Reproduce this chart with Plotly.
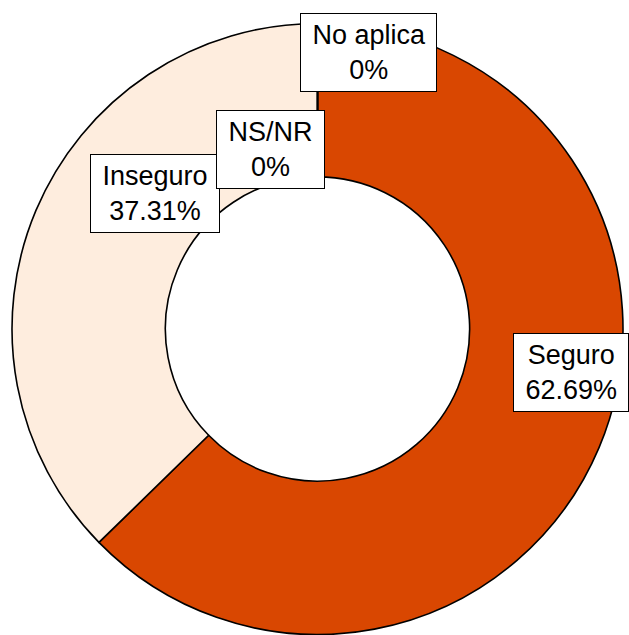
import plotly.graph_objects as go

# categories and shares (percent)
categories = ["Seguro", "Inseguro", "NS/NR", "No aplica"]
values = [62.69, 37.31, 0, 0]
colors = ["#D94701", "#FEEDDE", "#FDBE85", "#FD8D3C"]

# label boxes (paper coords), in the order of categories
label_x = [1.0098, 0.234, 0.4223, 0.5827]
label_y = [0.4297, 0.7222, 0.7925, 0.9526]
label_anchor = ["right", "center", "center", "center"]


def fmt(v):
    return f"{v:g}%" if v == 0 else f"{v:.2f}%"


fig = go.Figure(go.Pie(
    labels=categories,
    values=values,
    hole=0.498,
    sort=False,
    direction="clockwise",
    rotation=0,
    marker=dict(colors=colors, line=dict(color="black", width=1.6)),
    textinfo="none",
    hoverinfo="label+percent",
    showlegend=False,
))

sp = "\u2009"
for name, v, x, y, xa in zip(categories, values, label_x, label_y, label_anchor):
    fig.add_annotation(
        text=f"{sp}{name}{sp}<br>{sp}{fmt(v)}{sp}",
        xref="paper", yref="paper",
        x=x, y=y,
        xanchor=xa, yanchor="middle",
        showarrow=False,
        font=dict(family="Liberation Sans, Arial", size=27, color="black"),
        bgcolor="white",
        bordercolor="black",
        borderwidth=1,
        borderpad=6,
    )

fig.update_layout(
    width=629, height=635,
    margin=dict(l=12, r=6, t=23, b=0),
    paper_bgcolor="white",
    plot_bgcolor="white",
)

# drop the page's default body margin so the figure fills the window
fig.write_html("out.html", config={"displayModeBar": False},
               post_script="document.body.style.margin='0';")
